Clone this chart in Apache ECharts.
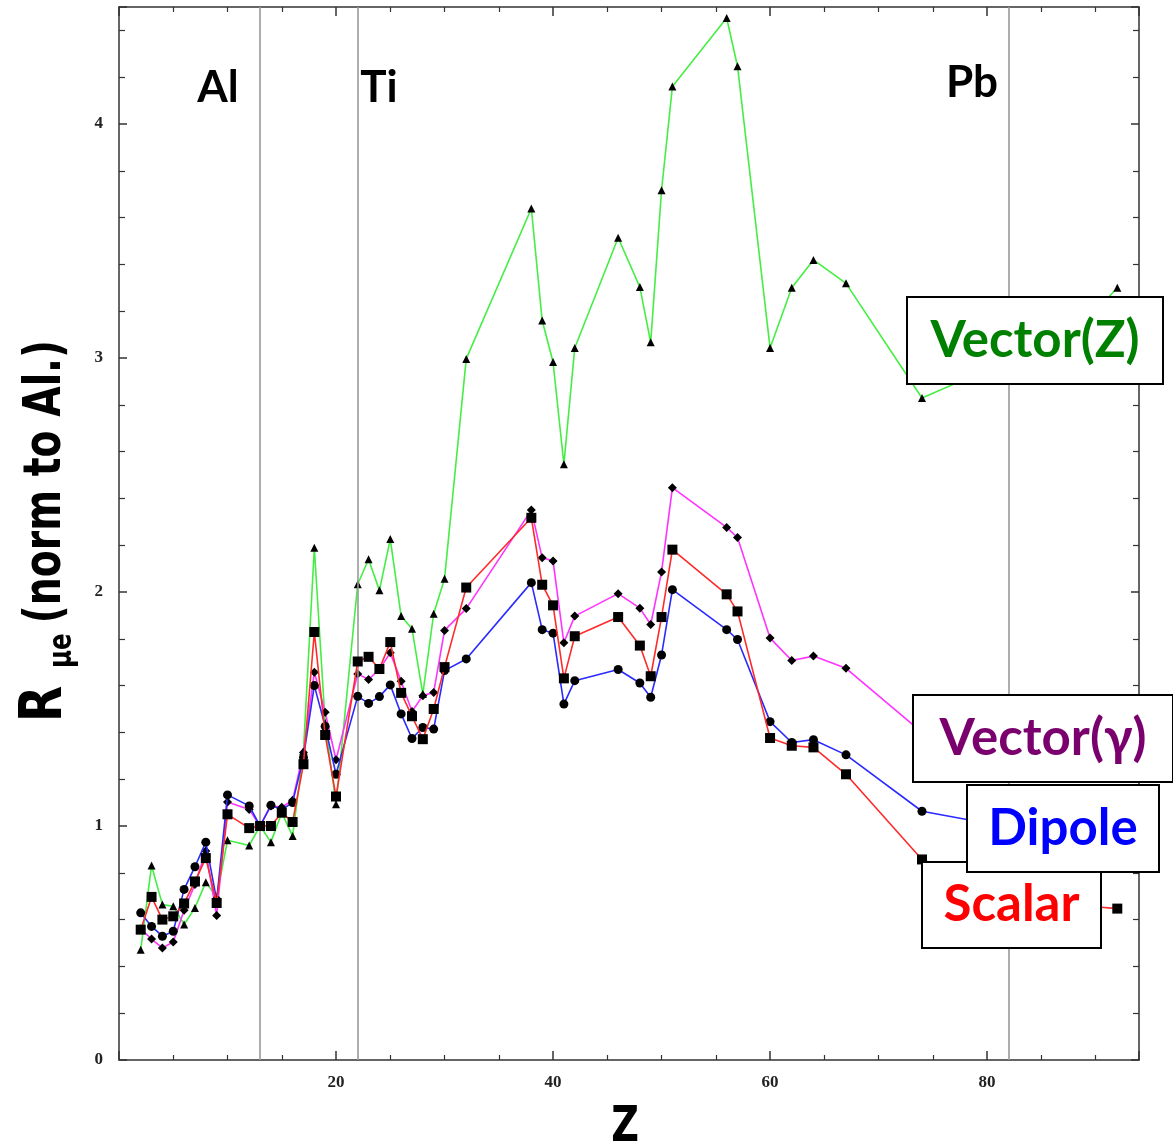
<!DOCTYPE html>
<html>
<head>
<meta charset="utf-8">
<script src="https://cdn.jsdelivr.net/npm/echarts@6/dist/echarts.min.js"></script>
<style>html,body{margin:0;padding:0;background:#fff}#c{width:1173px;height:1147px}</style>
</head>
<body>
<div id="c"></div>
<script>
// Atomic number Z of each nucleus
const zValues = [2,3,4,5,6,7,8,9,10,12,13,14,15,16,17,18,19,20,22,23,24,25,26,27,28,29,30,32,38,39,40,41,42,46,48,49,50,51,56,57,60,62,64,67,74,79,82,83,90,92];
// R_mue normalised to Al, per model
const vectorZ = [0.471,0.831,0.664,0.657,0.579,0.65,0.76,0.697,0.939,0.917,1.0,0.931,1.057,0.957,1.321,2.189,1.44,1.093,2.033,2.14,2.007,2.226,1.897,1.843,1.564,1.907,2.057,2.996,3.639,3.16,2.983,2.546,3.043,3.514,3.303,3.067,3.717,4.16,4.453,4.247,3.043,3.3,3.419,3.319,2.829,2.93,3.0,3.05,3.2,3.3];
const vectorGamma = [0.56,0.517,0.479,0.504,0.64,0.75,0.893,0.617,1.103,1.071,1.0,1.086,1.08,1.11,1.314,1.657,1.486,1.283,1.65,1.626,1.67,1.74,1.619,1.489,1.557,1.571,1.836,1.929,2.35,2.146,2.133,1.783,1.897,1.993,1.931,1.861,2.086,2.446,2.276,2.233,1.803,1.707,1.726,1.674,1.40,1.35,1.33,1.33,1.30,1.30];
const dipole = [0.629,0.571,0.529,0.55,0.729,0.826,0.931,0.683,1.133,1.086,1.0,1.089,1.07,1.1,1.293,1.6,1.426,1.221,1.554,1.524,1.553,1.603,1.479,1.374,1.421,1.414,1.664,1.714,2.04,1.839,1.824,1.521,1.621,1.669,1.611,1.55,1.731,2.01,1.839,1.797,1.446,1.357,1.369,1.304,1.063,1.02,1.0,0.99,0.97,0.96];
const scalar = [0.557,0.697,0.6,0.614,0.669,0.763,0.863,0.671,1.05,0.991,1.0,1.0,1.057,1.017,1.264,1.829,1.389,1.126,1.703,1.723,1.671,1.786,1.569,1.469,1.371,1.5,1.679,2.019,2.317,2.031,1.943,1.631,1.811,1.893,1.771,1.64,1.893,2.181,1.99,1.917,1.376,1.343,1.336,1.221,0.857,0.77,0.72,0.71,0.655,0.647];
// Reference nuclei marked by vertical lines
const refNuclei = [{name:'Al', z:13}, {name:'Ti', z:22}, {name:'Pb', z:82}];
const xTicks = [0,20,40,60,80];
const yTicks = [0,1,2,3,4];

const chart = echarts.init(document.getElementById('c'), null, {renderer:'canvas'});
const pairs = arr => zValues.map((z,i)=>[z, arr[i]]);

const axisLineStyle = {color:'#333', width:1.5};
const tickLbl = {color:'#222', fontFamily:'Liberation Serif', fontSize:17, fontWeight:'bold'};

function mkSeries(name, arr, color, symbol, size, z){
  return {
    name, type:'line', data:pairs(arr), z,
    symbol, symbolSize:size,
    lineStyle:{color, width:1.6},
    itemStyle:{color:'#000', borderWidth:0},
    emphasis:{disabled:true},
    animation:false
  };
}

const boxFont = 'Lato';
function labelBox(text, color, x, y, w, h, z){
  return [
    {type:'rect', z, shape:{x, y, width:w, height:h}, style:{fill:'#fff', stroke:'#000', lineWidth:2}},
    {type:'text', z:z+1, x:x+w/2, y:y+h/2, style:{text, fill:color, font:'bold 51px ' + boxFont, align:'center', verticalAlign:'middle'}}
  ];
}

const refLabelPos = {Al:[218,88], Ti:[379,88], Pb:[972,83]};
const titleFont = '"DejaVu Sans Condensed", "DejaVu Sans"';

const option = {
  backgroundColor:'#fff',
  animation:false,
  grid:{left:119, right:34, top:7, bottom:87, outerBoundsMode:'none', containLabel:false},
  xAxis:[{
    type:'value', min:0, max:94, interval:20, position:'bottom',
    axisLine:{show:true, onZero:false, lineStyle:axisLineStyle},
    axisTick:{show:true, inside:true, length:9, lineStyle:{color:'#333', width:1.5}},
    minorTick:{show:true, splitNumber:4, length:5, lineStyle:{color:'#333', width:1.2}},
    axisLabel:Object.assign({margin:14, showMinLabel:false, showMaxLabel:false, formatter:v=>xTicks.includes(v)?String(v):''}, tickLbl),
    splitLine:{show:false}
  },{
    type:'value', min:0, max:94, interval:20, position:'top',
    axisLine:{show:true, onZero:false, lineStyle:axisLineStyle},
    axisTick:{show:true, inside:true, length:9, lineStyle:{color:'#333', width:1.5}},
    minorTick:{show:true, splitNumber:4, length:5, lineStyle:{color:'#333', width:1.2}},
    axisLabel:{show:false}, splitLine:{show:false}
  }],
  yAxis:[{
    type:'value', min:0, max:4.5, interval:1, position:'left',
    axisLine:{show:true, onZero:false, lineStyle:axisLineStyle},
    axisTick:{show:true, inside:true, length:8, lineStyle:{color:'#333', width:1.5}},
    minorTick:{show:true, splitNumber:5, length:6, lineStyle:{color:'#333', width:1.2}},
    axisLabel:Object.assign({margin:16, showMaxLabel:false, formatter:v=>yTicks.includes(v)?String(v):''}, tickLbl),
    splitLine:{show:false}
  },{
    type:'value', min:0, max:4.5, interval:1, position:'right',
    axisLine:{show:true, onZero:false, lineStyle:axisLineStyle},
    axisTick:{show:true, inside:true, length:8, lineStyle:{color:'#333', width:1.5}},
    minorTick:{show:true, splitNumber:5, length:6, lineStyle:{color:'#333', width:1.2}},
    axisLabel:{show:false}, splitLine:{show:false}
  }],
  series:[
    {
      type:'line', data:[], z:1, silent:true, animation:false,
      markLine:{
        silent:true, symbol:['none','none'], animation:false,
        label:{show:false},
        lineStyle:{color:'#999', width:1.6, type:'solid'},
        emphasis:{disabled:true},
        data:refNuclei.map(r=>({xAxis:r.z}))
      }
    },
    mkSeries('Vector(Z)', vectorZ, '#44ee44', 'triangle', 8, 3),
    mkSeries('Vector(γ)', vectorGamma, '#ff33ff', 'diamond', [9,9], 4),
    mkSeries('Dipole', dipole, '#2a2aff', 'circle', 9, 5),
    mkSeries('Scalar', scalar, '#ff2a2a', 'rect', 10, 6)
  ],
  graphic:{elements:[].concat(
    refNuclei.map(r=>({type:'text', z:50, x:refLabelPos[r.name][0], y:refLabelPos[r.name][1],
      style:{text:r.name, fill:'#000', font:'bold 44px Lato', align:'center', verticalAlign:'middle'}})),
    labelBox('Vector(Z)', '#008000', 907, 297, 256, 87, 60),
    labelBox('Vector(γ)', '#7a006e', 913, 695, 260, 87, 62),
    labelBox('Scalar', '#ff0000', 922, 862, 179, 86, 64),
    labelBox('Dipole', '#0000ff', 967, 785, 192, 87, 66),
    [
      {type:'text', z:70, x:625, y:1128, scaleX:0.85, style:{text:'Z', fill:'#000', font:'bold 50px ' + titleFont, align:'center', verticalAlign:'middle'}},
      {type:'text', z:70, x:46, y:722, rotation:Math.PI/2, scaleX:0.9, style:{text:'R', fill:'#000', font:'bold 58px ' + titleFont, align:'left', verticalAlign:'middle'}},
      {type:'text', z:70, x:63, y:668, rotation:Math.PI/2, scaleX:0.85, style:{text:'μe', fill:'#000', font:'bold 32px ' + titleFont, align:'left', verticalAlign:'middle'}},
      {type:'text', z:70, x:46, y:340, rotation:Math.PI/2, scaleX:0.84, style:{text:'(norm to Al.)', fill:'#000', font:'bold 52px ' + titleFont, align:'right', verticalAlign:'middle'}}
    ]
  )}
};
chart.setOption(option);
</script>
</body>
</html>
